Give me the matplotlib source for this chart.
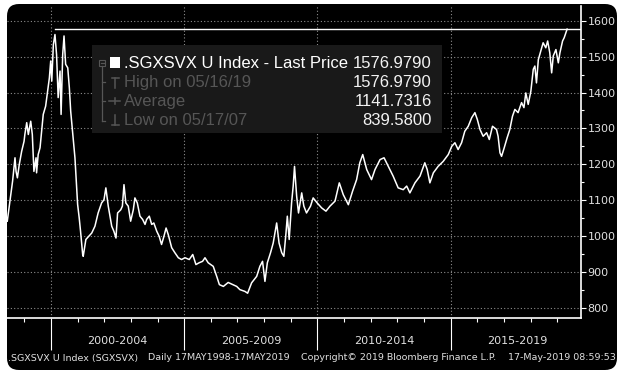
import matplotlib
matplotlib.use("Agg")
import matplotlib.pyplot as plt
from matplotlib.patches import FancyBboxPatch, Rectangle
from matplotlib.lines import Line2D
from matplotlib.ticker import FixedLocator, MultipleLocator, NullFormatter
from matplotlib.transforms import IdentityTransform, blended_transform_factory

W, H = 623, 372

# price path (decimal year, index level)
years = [1998.36, 1998.46, 1998.56, 1998.65, 1998.69, 1998.74, 1998.81, 1998.90, 1998.99, 1999.02,
         1999.09, 1999.15, 1999.24, 1999.30, 1999.34, 1999.36, 1999.44, 1999.46, 1999.52, 1999.59,
         1999.65, 1999.71, 1999.80, 1999.86, 1999.94, 1999.99, 2000.03, 2000.09, 2000.15, 2000.21,
         2000.27, 2000.34, 2000.38, 2000.44, 2000.49, 2000.55, 2000.63, 2000.69, 2000.74, 2000.81,
         2000.90, 2000.96, 2001.00, 2001.06, 2001.11, 2001.19,
         2001.21, 2001.31, 2001.53, 2001.65, 2001.77, 2001.90, 2001.99, 2002.06, 2002.15, 2002.28,
         2002.36, 2002.44, 2002.50, 2002.62, 2002.68, 2002.74, 2002.81, 2002.90, 2002.99, 2003.09,
         2003.15, 2003.24, 2003.34, 2003.44, 2003.53, 2003.59, 2003.69, 2003.78, 2003.86, 2003.97,
         2004.06, 2004.15, 2004.24, 2004.32, 2004.40, 2004.53, 2004.65, 2004.78, 2004.90, 2005.03,
         2005.19, 2005.32, 2005.44, 2005.56, 2005.69, 2005.78, 2005.90,
         2006.09, 2006.22, 2006.32, 2006.47, 2006.65, 2006.97, 2007.09, 2007.28, 2007.38, 2007.53,
         2007.72, 2007.84, 2007.94, 2008.03, 2008.12, 2008.24, 2008.34, 2008.47, 2008.56, 2008.66,
         2008.74, 2008.82, 2008.87, 2008.94, 2009.03, 2009.09, 2009.14, 2009.22, 2009.29, 2009.41,
         2009.49, 2009.59, 2009.74, 2009.84, 2009.99, 2010.16, 2010.32, 2010.47, 2010.66, 2010.82,
         2010.97, 2011.16, 2011.32, 2011.47, 2011.59, 2011.70, 2011.85, 2012.03,
         2012.16, 2012.35, 2012.50, 2012.66, 2012.84, 2013.03, 2013.22, 2013.35, 2013.47, 2013.66,
         2013.85, 2014.03, 2014.12, 2014.22, 2014.35, 2014.53, 2014.72, 2014.91, 2015.04, 2015.16,
         2015.28, 2015.41, 2015.53, 2015.66, 2015.79, 2015.91, 2016.00, 2016.10, 2016.22, 2016.35,
         2016.45, 2016.57, 2016.72, 2016.78, 2016.85, 2016.91, 2017.01, 2017.12, 2017.22, 2017.32,
         2017.41, 2017.53, 2017.66, 2017.75, 2017.82, 2017.91, 2018.01, 2018.10, 2018.16, 2018.22,
         2018.29, 2018.38, 2018.47, 2018.57, 2018.64, 2018.72, 2018.79, 2018.85, 2018.95, 2019.04,
         2019.10, 2019.20, 2019.26, 2019.37]
values = [1041, 1097, 1153, 1218, 1180, 1162, 1199, 1236, 1264, 1283,
          1316, 1283, 1320, 1283, 1218, 1180, 1218, 1176, 1227, 1246,
          1292, 1339, 1362, 1395, 1441, 1488, 1432, 1534, 1562, 1506,
          1386, 1460, 1339, 1506, 1558, 1479, 1469, 1413, 1348, 1292,
          1218, 1143, 1088, 1050, 1013, 948,
          943, 990, 1008, 1027, 1064, 1092, 1101, 1134, 1083, 1027,
          1013, 994, 1064, 1073, 1083, 1143, 1092, 1083, 1041, 1073,
          1106, 1092, 1055, 1046, 1032, 1046, 1055, 1032, 1036, 1013,
          999, 976, 999, 1022, 1004, 967, 953, 939, 934, 939,
          934, 948, 920, 925, 929, 939, 925,
          915, 887, 864, 859, 870, 859, 850, 845, 840, 869,
          887, 915, 929, 873, 925, 953, 980, 1036, 980, 953,
          943, 1008, 1055, 990, 1092, 1139, 1194, 1111, 1064, 1120,
          1083, 1064, 1083, 1106, 1092, 1078, 1069, 1083, 1097, 1148,
          1115, 1087, 1125, 1157, 1204, 1227, 1185, 1157,
          1185, 1213, 1218, 1194, 1167, 1134, 1129, 1139, 1120, 1148,
          1167, 1204, 1185, 1148, 1176, 1194, 1208, 1227, 1250, 1260,
          1241, 1260, 1292, 1306, 1330, 1344, 1325, 1297, 1278, 1288,
          1269, 1306, 1297, 1278, 1232, 1222, 1246, 1274, 1297, 1334,
          1353, 1344, 1372, 1358, 1399, 1367, 1404, 1465, 1474, 1427,
          1492, 1516, 1539, 1525, 1544, 1511, 1455, 1502, 1520, 1483,
          1511, 1544, 1553, 1577]

last_price = "1576.9790"
high_price = "1576.9790"
avg_price = "1141.7316"
low_price = "839.5800"

period_edges = [2000, 2005, 2010, 2015]
period_mid = [2002.5, 2007.5, 2012.5, 2017.5]
period_labels = ["2000-2004", "2005-2009", "2010-2014", "2015-2019"]
year_ticks = list(range(1999, 2020))
y_ticks = list(range(800, 1700, 100))


def fx(x):
    return x / W


def fy(y):
    return 1 - y / H


fig = plt.figure(figsize=(W / 100, H / 100), dpi=100, facecolor="white")
bg = FancyBboxPatch((7, 2), 610, 366, boxstyle="round,pad=0,rounding_size=12",
                    transform=IdentityTransform(), facecolor="black", edgecolor="none", zorder=-10)
fig.add_artist(bg)

ax = fig.add_axes([fx(7), fy(318.3), fx(580.7) - fx(7), fy(6) - fy(318.3)])
ax.set_facecolor("none")
ax.set_xlim(1998.35, 2019.88)
ax.set_ylim(770, 1641.6)
ax.set_axisbelow(True)

ax.xaxis.set_major_locator(FixedLocator(period_edges))
ax.xaxis.set_minor_locator(FixedLocator(year_ticks))
ax.xaxis.set_major_formatter(NullFormatter())
ax.yaxis.set_major_locator(FixedLocator(y_ticks))
ax.yaxis.set_minor_locator(MultipleLocator(50))
ax.yaxis.tick_right()
ax.tick_params(axis="x", which="major", length=23, width=0.8, color="white", direction="out")
ax.tick_params(axis="x", which="minor", length=3, width=0.8, color="white", direction="out")
ax.tick_params(axis="y", which="major", length=3.5, width=0.8, color="white", direction="out",
               labelsize=8, labelcolor="#e0e0e0", pad=1.5)
ax.tick_params(axis="y", which="minor", length=2.5, width=0.8, color="white", direction="out")
ax.grid(True, which="major", color="#8c8c8c", linestyle=(0, (1, 2)), linewidth=0.8)
for s in ["left", "top"]:
    ax.spines[s].set_visible(False)
for s in ["right", "bottom"]:
    ax.spines[s].set_color("white")
    ax.spines[s].set_linewidth(1.2)

# legend panel
ax.add_patch(Rectangle((fx(92), fy(133)), fx(442) - fx(92), fy(45) - fy(133),
                       transform=fig.transFigure, facecolor="#191919", edgecolor="none",
                       zorder=1, clip_on=False))

ax.plot(years, values, color="white", linewidth=1.1, zorder=2)
early = [v for y, v in zip(years, values) if y < 2005]
peak_year = years[values.index(max(early))]
x0, x1 = ax.get_xlim()
ax.axhline(float(last_price), xmin=(peak_year - x0) / (x1 - x0), xmax=1, color="white",
           linewidth=1.0, zorder=2)

lf = "Liberation Sans"
gray = "#565656"
rows = [(68.3, ".SGXSVX U Index - Last Price", last_price, "white"),
        (87.3, "High on 05/16/19", high_price, gray),
        (106.2, "Average", avg_price, gray),
        (125.0, "Low on 05/17/07", low_price, gray)]
for yb, lab, val, col in rows:
    fig.text(fx(124), fy(yb), lab, color=col, fontsize=12, family=lf, va="baseline", ha="left")
    fig.text(fx(432), fy(yb), val, color="#f2f2f2", fontsize=12, family=lf, va="baseline", ha="right")

fig.add_artist(Rectangle((fx(109.5), fy(68.3)), fx(10.5), 11 / H, transform=fig.transFigure,
                         facecolor="white", edgecolor="none"))
fig.add_artist(Rectangle((fx(99), fy(65.5)), fx(6), 6 / H, transform=fig.transFigure,
                         facecolor="none", edgecolor=gray, linewidth=0.8))


def seg(xs, ys, lw=0.9):
    fig.add_artist(Line2D([fx(v) for v in xs], [fy(v) for v in ys], color=gray, linewidth=lw,
                          transform=fig.transFigure))


seg([100.5, 103.5], [62.5, 62.5])
seg([102, 102], [65.5, 121])
seg([102, 105], [82, 82])
seg([102, 105], [101, 101])
seg([102, 105], [121, 121])
seg([111.5, 118.5], [77.5, 77.5], 1.1)
seg([115, 115], [77.5, 87.5], 1.1)
seg([109, 120], [101, 101], 1.1)
seg([114.5, 114.5], [98, 104], 1.1)
seg([115, 115], [115, 125], 1.1)
seg([111.5, 118.5], [125, 125], 1.1)

# period labels under the axis
tr = blended_transform_factory(ax.transData, fig.transFigure)
for m, lab in zip(period_mid, period_labels):
    ax.text(m, fy(341), lab, transform=tr, ha="center", va="center", fontsize=8, color="#e0e0e0")

# footer
fy_f = fy(358)
fs = 6.8
fig.text(fx(8), fy_f, ".SGXSVX U Index (SGXSVX)", fontsize=fs, color="#e0e0e0", va="center")
fig.text(fx(148), fy_f, "Daily 17MAY1998-17MAY2019", fontsize=fs, color="#e0e0e0", va="center")
fig.text(fx(301), fy_f, "Copyright\u00a9 2019 Bloomberg Finance L.P.", fontsize=fs, color="#e0e0e0", va="center")
fig.text(fx(616), fy_f, "17-May-2019 08:59:53", fontsize=fs, color="#e0e0e0", va="center", ha="right")

fig.savefig("out.png", dpi=100, facecolor="white")
